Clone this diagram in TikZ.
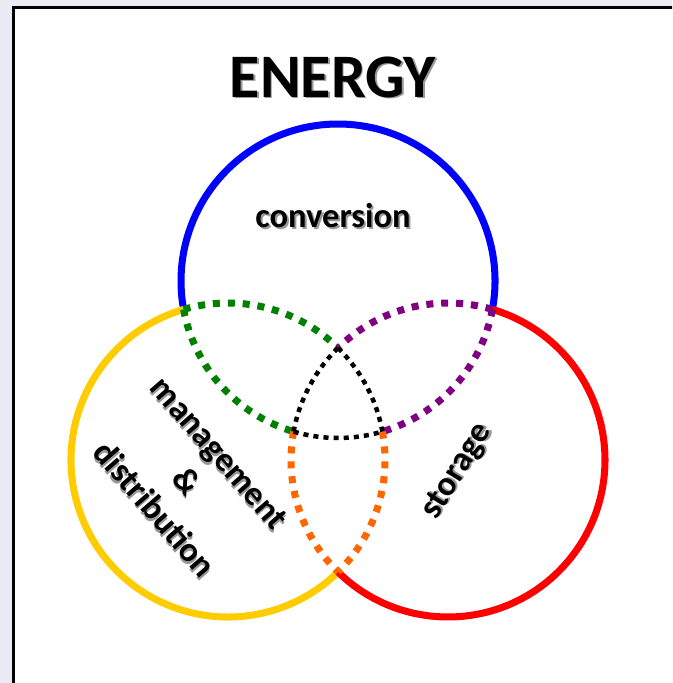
\documentclass[tikz,border=0pt]{standalone}
\usepackage{fontspec}
\setmainfont{Carlito}
\definecolor{qqqqff}{rgb}{0,0,1}
\definecolor{ffqqqq}{rgb}{1,0,0}
\definecolor{ffccqq}{rgb}{1,0.8,0}
\definecolor{qq8qqq}{rgb}{0,0.5,0}
\definecolor{8qqq8q}{rgb}{0.5,0,0.5}
\definecolor{ff66qq}{rgb}{1,0.4,0}
\definecolor{ebeaf4}{rgb}{0.92,0.92,0.96}
\newcommand{\shtxt}[1]{\makebox[0pt][l]{\kern1.3pt\raisebox{-1.3pt}{\color{black!40}#1}}#1}
\def\rr{157}
\tikzset{ring/.style={line width=5pt},
  dotring/.style={line width=5pt,dash pattern=on 5pt off 5.6pt},
  coreline/.style={line width=3.2pt,dash pattern=on 3.6pt off 3.6pt},
  label/.style={font=\fontsize{24.5}{30.5}\selectfont\bfseries,inner sep=0pt}}

\begin{document}
\begin{tikzpicture}[x=0.025cm,y=0.025cm]
			\useasboundingbox (0,0) rectangle (672,683);
			\clip (0,0) rectangle (672,683);
			\fill [color=ebeaf4] (0,0) rectangle (672,683);
			\fill [color=white] (13.5,-20) rectangle (700,675.5);
			\draw [line width=2.2pt] (13.5,-20) -- (13.5,675.5) -- (700,675.5);
			\coordinate (cB) at (338,402);
			\coordinate (cY) at (228,223);
			\coordinate (cR) at (448,223);
			% solid parts
			\draw [ring,color=qqqqff] (cB) ++(-10.4:\rr) arc[start angle=-10.4,end angle=190.4,radius=\rr];
			\draw [ring,color=ffccqq] (cY) ++(106.4:\rr) arc[start angle=106.4,end angle=314.5,radius=\rr];
			\draw [ring,color=ffqqqq] (cR) ++(225.5:\rr) arc[start angle=225.5,end angle=433.6,radius=\rr];
			% overlaps
			\draw [dotring,color=qq8qqq] (cB) ++(190.4:\rr) arc[start angle=190.4,end angle=253.6,radius=\rr];
			\draw [dotring,color=qq8qqq] (cY) ++(106.4:\rr) arc[start angle=106.4,end angle=45.5,radius=\rr];
			\draw [dotring,color=8qqq8q] (cB) ++(349.6:\rr) arc[start angle=349.6,end angle=286.4,radius=\rr];
			\draw [dotring,color=8qqq8q] (cR) ++(73.6:\rr) arc[start angle=73.6,end angle=134.5,radius=\rr];
			\draw [dotring,color=ff66qq] (cR) ++(169.6:\rr) arc[start angle=169.6,end angle=225.5,radius=\rr];
			\draw [dotring,color=ff66qq] (cY) ++(10.4:\rr) arc[start angle=10.4,end angle=-45.5,radius=\rr];
			\draw [coreline] (cB) ++(253.6:\rr) arc[start angle=253.6,end angle=286.4,radius=\rr];
			\draw [coreline] (cY) ++(10.4:\rr) arc[start angle=10.4,end angle=45.5,radius=\rr];
			\draw [coreline] (cR) ++(134.5:\rr) arc[start angle=134.5,end angle=169.6,radius=\rr];
			% texts
			\node [label,font=\fontsize{44}{50}\selectfont\bfseries] (energy) at (333,605) {\shtxt{ENERGY}};
			\node [label,anchor=base] (conv) at (333,455) {\shtxt{conversion}};
			\node [label,align=center,rotate=-49] (mgmt) at (186,201) {\shtxt{management}\\\shtxt{\&}\\\shtxt{distribution}};
			\node [label,rotate=58] (stor) at (458,211) {\shtxt{storage}};
		\end{tikzpicture}
\end{document}
